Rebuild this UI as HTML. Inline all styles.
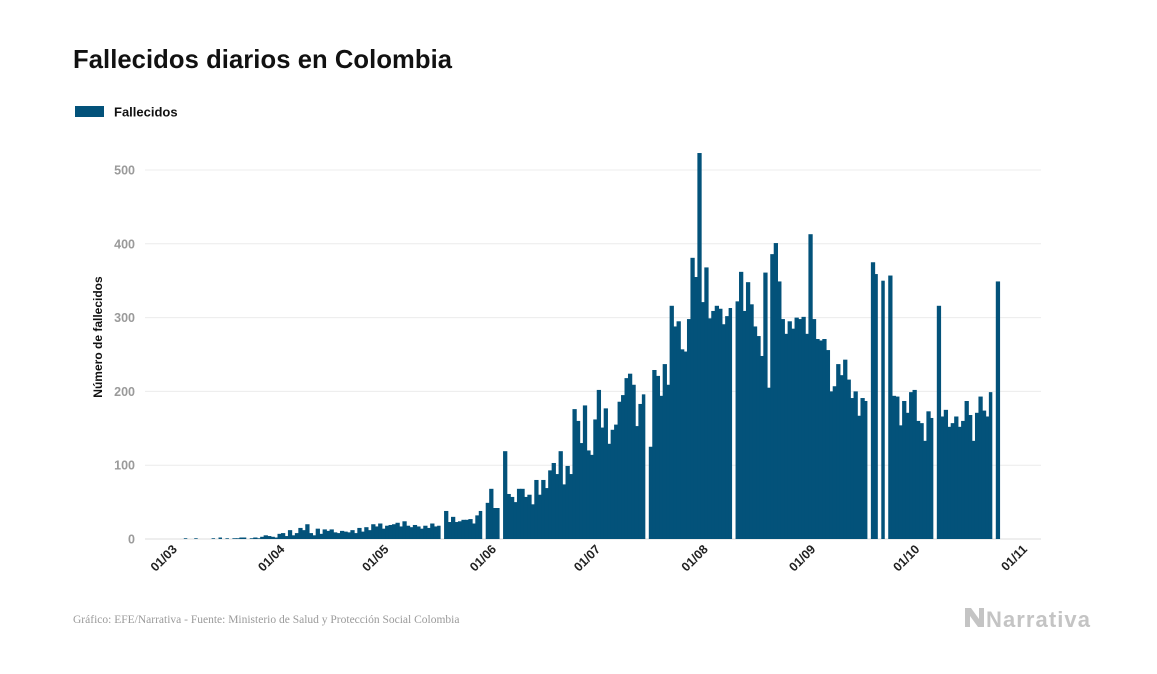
<!DOCTYPE html>
<html><head><meta charset="utf-8"><style>
body{margin:0;background:#fff;width:1157px;height:674px;overflow:hidden;font-family:"Liberation Sans",sans-serif;}
svg{display:block}
</style></head><body>
<svg width="1157" height="674" xmlns="http://www.w3.org/2000/svg">
<text x="73" y="68" font-size="25.6" font-weight="bold" fill="#111" textLength="379">Fallecidos diarios en Colombia</text>
<rect x="75" y="106" width="29" height="11" fill="#03527a"/>
<text x="114" y="116.5" font-size="13" font-weight="bold" fill="#111">Fallecidos</text>
<text transform="translate(102,337) rotate(-90)" text-anchor="middle" font-size="12" font-weight="bold" fill="#111">Número de fallecidos</text>
<g id="grid"></g><g id="bars"></g><g id="xlabels"></g>
<text x="73" y="623" font-family="Liberation Serif, serif" font-size="11.5" fill="#9a9a9a">Gráfico: EFE/Narrativa - Fuente: Ministerio de Salud y Protección Social Colombia</text>
<g>
<path d="M965 627 L965 608 L971 608 L979 619 L979 608 L984 608 L984 627 L978 627 L970 616 L970 627 Z" fill="#c4c4c4"/>
<text x="986" y="627" font-size="22" font-weight="bold" fill="#c4c4c4" textLength="104">Narrativa</text>
</g>
</svg>
<script>
const values = [0,0,0,0,0,0,1,0,0,1,0,0,0,0,1,0,
2,0,1,0,1,1,2,2,0,1,2,1,3,
5,4,3,2,7,8,4,12,5,8,15,12,20,8,5,14,7,13,11,13,9,8,11,10,9,12,8,15,10,16,12,20,
17,21,14,18,19,20,22,17,24,18,16,19,17,14,18,15,21,17,18,
0,
38,23,30,23,24,26,26,27,21,32,38,
0,49,68,42,42,0,119,
61,57,50,68,68,57,60,47,80,60,80,69,93,103,88,119,74,99,88,176,160,130,181,120,114,162,202,151,177,129,148,155,186,195,
218,224,209,153,183,196,0,
125,229,221,194,237,209,316,288,295,257,254,298,381,355,523,321,368,299,309,316,312,291,302,313,
0,
322,362,309,348,318,288,275,248,361,205,386,401,349,298,278,295,285,300,298,301,278,413,298,271,269,271,256,200,207,237,222,243,216,191,200,167,191,187,
0,375,359,0,350,0,357,
194,193,154,187,171,199,202,160,157,133,173,164,
0,316,
166,175,152,157,166,152,160,187,168,133,171,193,174,166,199,
0,349];
const yTicks = [0,100,200,300,400,500];
const xTickDays = [0,31,61,92,122,153,184,214,245];
const xTickLabels = ["01/03","01/04","01/05","01/06","01/07","01/08","01/09","01/10","01/11"];
const NS="http://www.w3.org/2000/svg";
const step=3.47, x0=163;
function xs(d){return x0+d*step;}
function ys(v){return 539-v*0.738;}
const grid=document.getElementById('grid');
yTicks.forEach(t=>{
  const l=document.createElementNS(NS,'line');
  l.setAttribute('x1',145);l.setAttribute('x2',1041);
  l.setAttribute('y1',ys(t));l.setAttribute('y2',ys(t));
  l.setAttribute('stroke',t===0?'#ddd':'#ececec');l.setAttribute('stroke-width',1);
  
  
  grid.appendChild(l);
  const tx=document.createElementNS(NS,'text');
  tx.setAttribute('x',135);tx.setAttribute('y',ys(t)+4.5);
  tx.setAttribute('text-anchor','end');tx.setAttribute('font-size','12.5');
  tx.setAttribute('font-weight','bold');tx.setAttribute('fill','#9a9a9a');
  tx.textContent=t;
  
  
  grid.appendChild(tx);
});
const bars=document.getElementById('bars');
values.forEach((v,i)=>{
  if(v<=0)return;
  const nextZero = (i+1<values.length && values[i+1]<=0);
  const r=document.createElementNS(NS,'rect');
  r.setAttribute('x',xs(i));r.setAttribute('width',nextZero?step:step+0.8);
  r.setAttribute('y',ys(v));r.setAttribute('height',539-ys(v));
  r.setAttribute('fill','#03527a');
  
  
  bars.appendChild(r);
});
const xl=document.getElementById('xlabels');
xTickDays.forEach((d,i)=>{
  const cx=xs(d)+step/2;
  const t=document.createElementNS(NS,'text');
  t.setAttribute('transform','translate('+(cx+13)+',550) rotate(-45)');
  t.setAttribute('text-anchor','end');t.setAttribute('font-size','12.5');
  t.setAttribute('font-weight','bold');t.setAttribute('fill','#222');
  t.textContent=xTickLabels[i];
  
  
  xl.appendChild(t);
});
</script>
</body></html>
